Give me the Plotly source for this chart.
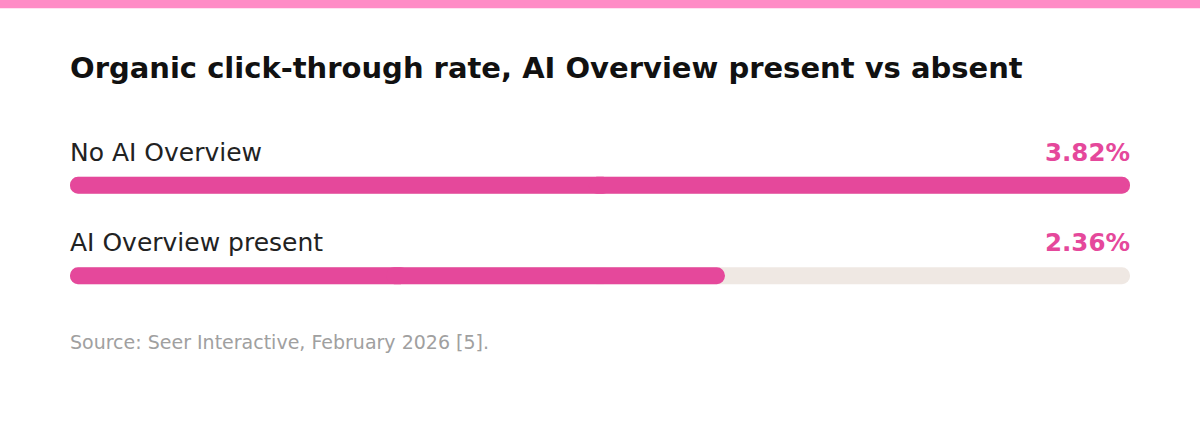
import plotly.graph_objects as go

# data
categories = ["No AI Overview", "AI Overview present"]
ctr_values = [3.82, 2.36]
value_labels = ["3.82%", "2.36%"]
scale_max = 3.82

TITLE = "Organic click-through rate, AI Overview present vs absent"
SOURCE = "Source: Seer Interactive, February 2026 [5]."

PINK = "#e5489b"
TRACK = "#efe8e3"
FONT = "'DejaVu Sans', sans-serif"

W, H = 1200, 425
TOP, BOT = 139.5, 103.5
plot_h = H - TOP - BOT
bar_w = 17 / (plot_h / 2)
OVERLAP = 0.04  # in x units, about 11px each side of the middle


def px_to_paper(py):
    # pixel row (from top of page) -> paper y
    return (H - BOT - py) / plot_h


def pill(values, color, hover):
    # two halves that overlap a little in the middle, one growing right and
    # one growing left, so both outer ends of the pill get rounded corners
    right = go.Bar(x=[v / 2 + OVERLAP for v in values], base=[v / 2 - OVERLAP for v in values],
                   y=categories, orientation="h", width=bar_w, opacity=1,
                   marker=dict(color=color, cornerradius=9, line_width=0),
                   hoverinfo=hover, showlegend=False)
    left = go.Bar(x=[-(v / 2 + OVERLAP) for v in values], base=[v / 2 + OVERLAP for v in values],
                  y=categories, orientation="h", width=bar_w, opacity=1,
                  marker=dict(color=color, cornerradius=9, line_width=0),
                  hoverinfo="skip", showlegend=False)
    return [left, right]


fig = go.Figure()
for t in pill([scale_max] * len(categories), TRACK, "skip"):
    fig.add_trace(t)
for t in pill(ctr_values, PINK, "y"):
    fig.add_trace(t)

# labels above bars
for cat, lab in zip(categories, value_labels):
    fig.add_annotation(x=0, xref="paper", y=cat, yref="y", yshift=33, xshift=-2,
                       text=cat, showarrow=False, xanchor="left", yanchor="middle",
                       font=dict(family=FONT, size=25, color="#222222"))
    fig.add_annotation(x=1, xref="paper", y=cat, yref="y", yshift=33, xshift=2,
                       text=f"<b>{lab}</b>", showarrow=False, xanchor="right", yanchor="middle",
                       font=dict(family=FONT, size=24.5, color=PINK))

fig.add_annotation(x=0, xref="paper", y=px_to_paper(343), yref="paper", xshift=-2,
                   text=SOURCE, showarrow=False, xanchor="left", yanchor="middle",
                   font=dict(family=FONT, size=19, color="#a0a0a0"))

# pink strip along the top
fig.add_shape(type="rect", xref="paper", yref="paper",
              x0=-0.2, x1=1.2, y0=px_to_paper(7), y1=px_to_paper(-2),
              fillcolor="#ff8cc6", line_width=0, layer="above")

fig.update_layout(
    width=W, height=H,
    margin=dict(l=70, r=70, t=TOP, b=BOT),
    paper_bgcolor="white", plot_bgcolor="white",
    barmode="overlay",
    title=dict(text=f"<b>{TITLE}</b>", x=70 / W, xref="container", xanchor="left",
               y=1 - 68 / H, yref="container", yanchor="middle",
               font=dict(family=FONT, size=29, color="#111111")),
    xaxis=dict(range=[0, scale_max], visible=False, fixedrange=True),
    yaxis=dict(categoryorder="array", categoryarray=categories, autorange=False,
               range=[1.5, -0.5], visible=False, fixedrange=True),
)

fig.write_html("out.html", config={"displayModeBar": False},
               post_script="document.body.style.margin='0';")
